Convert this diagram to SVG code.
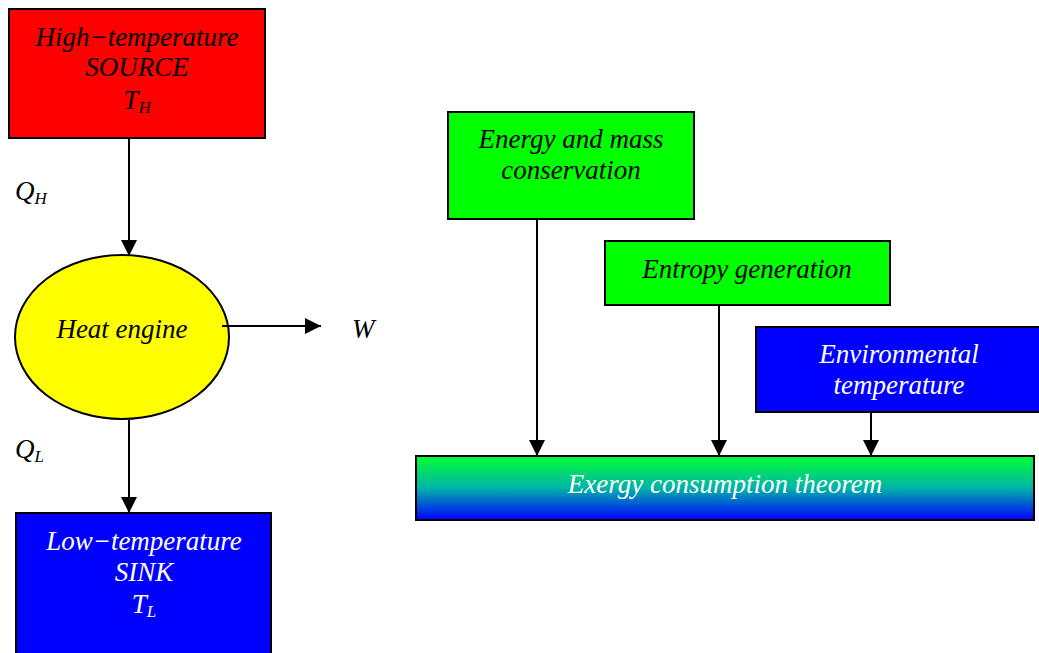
<svg xmlns="http://www.w3.org/2000/svg" width="1039" height="653" viewBox="0 0 1039 653">
<defs>
<marker id="ah2" viewBox="0 0 16 16" refX="16" refY="8" markerWidth="16" markerHeight="16" markerUnits="userSpaceOnUse" orient="auto">
<path d="M0,0 L16,8 L0,16 z" fill="#000"/>
</marker>
<linearGradient id="g" x1="0" y1="0" x2="0" y2="1">
<stop offset="0" stop-color="#00FF33"/>
<stop offset="0.5" stop-color="#00B4A8"/>
<stop offset="1" stop-color="#0000FF"/>
</linearGradient>
</defs>
<style>
.box{stroke:#000;stroke-width:2}
.t{font-family:"Liberation Serif","Times New Roman",serif;font-style:italic;font-size:27px;text-anchor:middle}
.lbl{font-family:"Liberation Serif","Times New Roman",serif;font-style:italic;font-size:27px}
.sub{font-size:17px}
.w{fill:#fff}
.c{stroke:#000;stroke-width:2;fill:none}
</style>
<rect width="1039" height="653" fill="#fff"/>
<g id="source">
<rect class="box" x="9" y="9" width="256" height="129" fill="#FF0000"/>
<text class="t" x="137" y="46">High−temperature</text>
<text class="t" x="137" y="76">SOURCE</text>
<text class="t" x="137" y="109">T<tspan class="sub" dy="4">H</tspan></text>
</g>
<g id="label-qh"><text class="lbl" x="15" y="200">Q<tspan class="sub" dy="4">H</tspan></text></g>
<g id="engine">
<ellipse class="box" cx="122" cy="337" rx="107" ry="82" fill="#FFFF00"/>
<text class="t" x="122" y="338">Heat engine</text>
</g>
<g id="label-w"><text class="lbl" x="352" y="338">W</text></g>
<g id="label-ql"><text class="lbl" x="15" y="458">Q<tspan class="sub" dy="4">L</tspan></text></g>
<g id="sink">
<rect class="box" x="16" y="513" width="255" height="145" fill="#0000FF"/>
<text class="t w" x="144" y="550">Low−temperature</text>
<text class="t w" x="144" y="581">SINK</text>
<text class="t w" x="144" y="613">T<tspan class="sub" dy="4">L</tspan></text>
</g>
<g id="energy">
<rect class="box" x="448" y="112" width="246" height="107" fill="#00FF00"/>
<text class="t" x="571" y="148">Energy and mass</text>
<text class="t" x="571" y="179">conservation</text>
</g>
<g id="entropy">
<rect class="box" x="605" y="241" width="285" height="64" fill="#00FF00"/>
<text class="t" x="747" y="278">Entropy generation</text>
</g>
<g id="environment">
<rect class="box" x="756" y="327" width="285" height="85" fill="#0000FF"/>
<text class="t w" x="899" y="363">Environmental</text>
<text class="t w" x="899" y="394">temperature</text>
</g>
<g id="exergy">
<rect class="box" x="416" y="456" width="618" height="64" fill="url(#g)"/>
<text class="t w" x="725" y="493">Exergy consumption theorem</text>
</g>
<g id="connectors">
<line class="c" x1="129" y1="139" x2="129" y2="256" marker-end="url(#ah2)"/>
<line class="c" x1="129" y1="420" x2="129" y2="513" marker-end="url(#ah2)"/>
<line class="c" x1="222" y1="326" x2="321" y2="326" marker-end="url(#ah2)"/>
<line class="c" x1="537" y1="220" x2="537" y2="456" marker-end="url(#ah2)"/>
<line class="c" x1="719" y1="306" x2="719" y2="456" marker-end="url(#ah2)"/>
<line class="c" x1="871" y1="413" x2="871" y2="456" marker-end="url(#ah2)"/>
</g>
</svg>
